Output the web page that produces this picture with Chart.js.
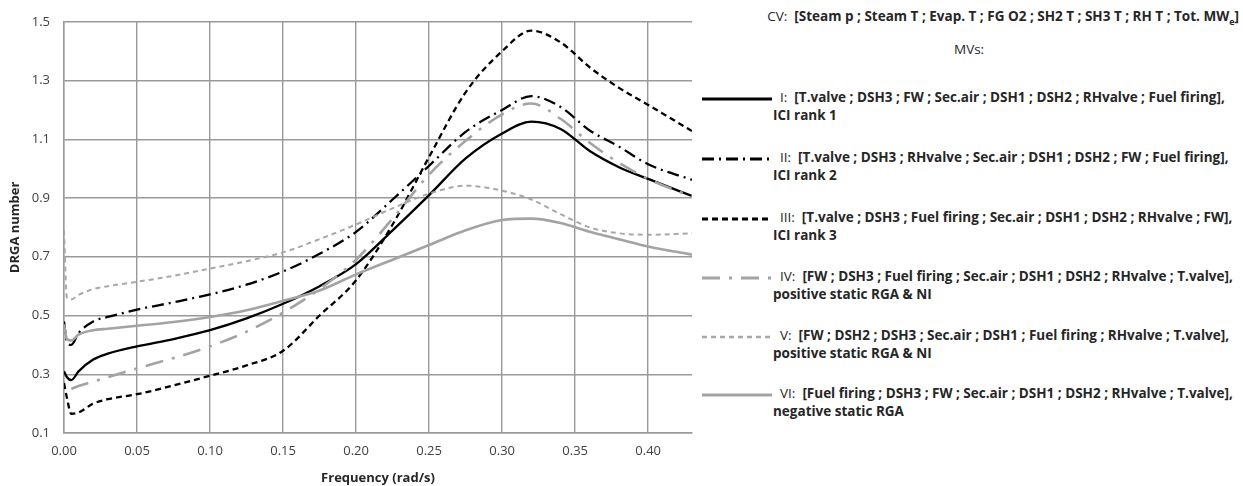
<!DOCTYPE html>
<html>
<head>
<meta charset="utf-8">
<script src="https://cdn.jsdelivr.net/npm/chart.js@4.4.1/dist/chart.umd.min.js"></script>
<style>
	html, body { margin: 0; padding: 0; background: #fff; }
	#wrap { position: relative; width: 1243px; height: 486px; font-family: "Open Sans", "Noto Sans", sans-serif; color: #262626; }
	#plot { position: absolute; left: 0; top: 0; width: 700px; height: 486px; }
	#legend { position: absolute; left: 700px; top: 0; width: 543px; height: 486px; font-size: 13.5px; }
	.cv { position: absolute; left: 0; width: 543px; top: 7px; text-align: right; padding-right: 4px; box-sizing: border-box; white-space: nowrap; }
	.mvs { position: absolute; left: 254px; top: 40px; }
	.row { position: absolute; left: 0; width: 543px; }
	.row svg { position: absolute; left: 2px; top: 3px; }
	.row .l1 { position: absolute; left: 80px; top: -2px; white-space: nowrap; font-weight: bold; }
	.row .l2 { position: absolute; left: 73px; top: 16px; white-space: nowrap; font-weight: bold; }
	.row .num { font-weight: normal; }
	b { font-weight: bold; }
</style>
</head>
<body>
<div id="wrap">
	<div id="plot"><canvas id="drga"></canvas></div>
	<div id="legend"></div>
</div>
<script>
// Frequency (rad/s) where the curves are sampled
var freq = [0, 0.002, 0.005, 0.01, 0.02, 0.03, 0.05, 0.075, 0.10, 0.125, 0.15, 0.175, 0.20, 0.225, 0.25, 0.275, 0.30, 0.32, 0.34, 0.36, 0.38, 0.40, 0.43];

// DRGA number, one array per pairing
var pairI   = [0.31, 0.29, 0.28, 0.31, 0.35, 0.37, 0.395, 0.42, 0.45, 0.49, 0.54, 0.60, 0.675, 0.79, 0.91, 1.035, 1.12, 1.16, 1.135, 1.06, 1.005, 0.965, 0.907];
var pairII  = [0.48, 0.41, 0.40, 0.44, 0.48, 0.495, 0.52, 0.545, 0.572, 0.605, 0.65, 0.71, 0.785, 0.895, 1.01, 1.125, 1.20, 1.247, 1.21, 1.13, 1.075, 1.015, 0.962];
var pairIII = [0.27, 0.22, 0.165, 0.17, 0.20, 0.215, 0.232, 0.262, 0.295, 0.33, 0.38, 0.50, 0.62, 0.81, 1.04, 1.26, 1.40, 1.47, 1.43, 1.345, 1.275, 1.217, 1.128];
var pairIV  = [null, null, 0.25, 0.26, 0.275, 0.29, 0.32, 0.355, 0.395, 0.445, 0.51, 0.59, 0.69, 0.83, 0.98, 1.095, 1.185, 1.222, 1.17, 1.088, 1.02, 0.965, 0.905];
var pairV   = [0.79, 0.56, 0.555, 0.57, 0.59, 0.60, 0.615, 0.635, 0.66, 0.685, 0.715, 0.76, 0.81, 0.865, 0.915, 0.942, 0.925, 0.895, 0.845, 0.80, 0.78, 0.775, 0.78];
var pairVI  = [0.47, 0.42, 0.415, 0.435, 0.45, 0.455, 0.465, 0.478, 0.495, 0.518, 0.55, 0.585, 0.64, 0.69, 0.74, 0.79, 0.825, 0.83, 0.815, 0.785, 0.76, 0.735, 0.707];

var xTicks = [0, 0.05, 0.10, 0.15, 0.20, 0.25, 0.30, 0.35, 0.40];
var yTicks = [0.1, 0.3, 0.5, 0.7, 0.9, 1.1, 1.3, 1.5];

var seriesNames = ["I:", "II:", "III:", "IV:", "V:", "VI:"];
var seriesLine1 = [
	"[T.valve ; DSH3 ; FW ; Sec.air ; DSH1 ; DSH2 ; RHvalve ; Fuel firing],",
	"[T.valve ; DSH3 ; RHvalve ; Sec.air ; DSH1 ; DSH2 ; FW ; Fuel firing],",
	"[T.valve ; DSH3 ; Fuel firing ; Sec.air ; DSH1 ; DSH2 ; RHvalve ; FW],",
	"[FW ; DSH3 ; Fuel firing ; Sec.air ; DSH1 ; DSH2 ; RHvalve ; T.valve],",
	"[FW ; DSH2 ; DSH3 ; Sec.air ; DSH1 ; Fuel firing ; RHvalve ; T.valve],",
	"[Fuel firing ; DSH3 ; FW ; Sec.air ; DSH1 ; DSH2 ; RHvalve ; T.valve],"
];
var seriesLine2 = ["ICI rank 1", "ICI rank 2", "ICI rank 3", "positive static RGA & NI", "positive static RGA & NI", "negative static RGA"];

var styles = [
	{ color: "#000000", width: 2.3, dash: [] },
	{ color: "#000000", width: 2.3, dash: [12, 5, 2, 5] },
	{ color: "#000000", width: 2.3, dash: [6, 4] },
	{ color: "#a3a3a3", width: 2.6, dash: [18, 9, 3, 9] },
	{ color: "#a8a8a8", width: 2.0, dash: [5, 4] },
	{ color: "#a3a3a3", width: 2.6, dash: [] }
];

var allPairs = [pairI, pairII, pairIII, pairIV, pairV, pairVI];

function toPoints(vals) {
	var pts = [];
	for (var i = 0; i < freq.length; i++) {
		if (vals[i] !== null) pts.push({ x: freq[i], y: vals[i] });
	}
	return pts;
}

// legend (drawn in HTML on the right)
var legend = document.getElementById("legend");
legend.innerHTML =
	'<div class="cv">CV:&nbsp; <b>[Steam p ; Steam T ; Evap. T ; FG O2 ; SH2 T ; SH3 T ; RH T ; Tot. MW<sub style="font-size:9px">e</sub>]</b></div>' +
	'<div class="mvs">MVs:</div>';
var rowTops = [90, 150, 210, 269, 328, 386];
for (var r = 0; r < seriesNames.length; r++) {
	var st = styles[r];
	var row = document.createElement("div");
	row.className = "row";
	row.style.top = rowTops[r] + "px";
	row.innerHTML =
		'<svg width="70" height="12"><line x1="0" y1="6" x2="70" y2="6" stroke="' + st.color +
		'" stroke-width="' + (st.width + 0.5) + '" stroke-dasharray="' + (st.dash.length ? st.dash.join(" ") : "none") + '"/></svg>' +
		'<span class="l1"><span class="num">' + seriesNames[r] + '</span>&nbsp; ' + seriesLine1[r] + '</span>' +
		'<span class="l2">' + seriesLine2[r] + '</span>';
	legend.appendChild(row);
}

var datasets = [];
for (var k = 0; k < allPairs.length; k++) {
	datasets.push({
		label: seriesNames[k],
		data: toPoints(allPairs[k]),
		borderColor: styles[k].color,
		borderWidth: styles[k].width,
		borderDash: styles[k].dash,
		pointRadius: 0,
		fill: false,
		cubicInterpolationMode: "monotone"
	});
}
// draw grey series first so black ones sit on top
datasets = [datasets[5], datasets[4], datasets[3], datasets[2], datasets[1], datasets[0]];

var gridColor = "#999999";
var ctx = document.getElementById("drga");
window.drgaChart = new Chart(ctx, {
	type: "line",
	data: { datasets: datasets },
	options: {
		responsive: true,
		maintainAspectRatio: false,
		animation: false,
		layout: { padding: { top: 18, right: 8, left: 7, bottom: 0 } },
		plugins: {
			legend: { display: false },
			tooltip: { enabled: false }
		},
		scales: {
			x: {
				type: "linear",
				min: 0,
				max: 0.43,
				afterBuildTicks: function (scale) {
					scale.ticks = xTicks.map(function (v) { return { value: v }; });
				},
				afterFit: function (scale) { scale.height = 53; },
				grid: { color: gridColor, lineWidth: 1.4, drawTicks: false },
				border: { color: gridColor, width: 1.4 },
				ticks: {
					padding: 10,
					color: "#404040",
					font: { family: "Open Sans", size: 13 },
					callback: function (v) { return Number(v).toFixed(2); }
				},
				title: {
					display: true,
					text: "Frequency (rad/s)",
					color: "#262626",
					font: { family: "Open Sans", size: 13, weight: "bold" },
					padding: { top: 5, bottom: 0 }
				}
			},
			y: {
				min: 0.1,
				max: 1.5,
				afterBuildTicks: function (scale) {
					scale.ticks = yTicks.map(function (v) { return { value: v }; });
				},
				afterFit: function (scale) { scale.width = 57; },
				grid: { color: gridColor, lineWidth: 1.4, drawTicks: false },
				border: { color: gridColor, width: 1.4 },
				ticks: {
					padding: 14,
					color: "#404040",
					font: { family: "Open Sans", size: 13 },
					callback: function (v) { return Number(v).toFixed(1); }
				},
				title: {
					display: true,
					text: "DRGA number",
					color: "#262626",
					font: { family: "Open Sans", size: 13, weight: "bold" },
					padding: { top: 0, bottom: 4 }
				}
			}
		}
	}
});
</script>
</body>
</html>
